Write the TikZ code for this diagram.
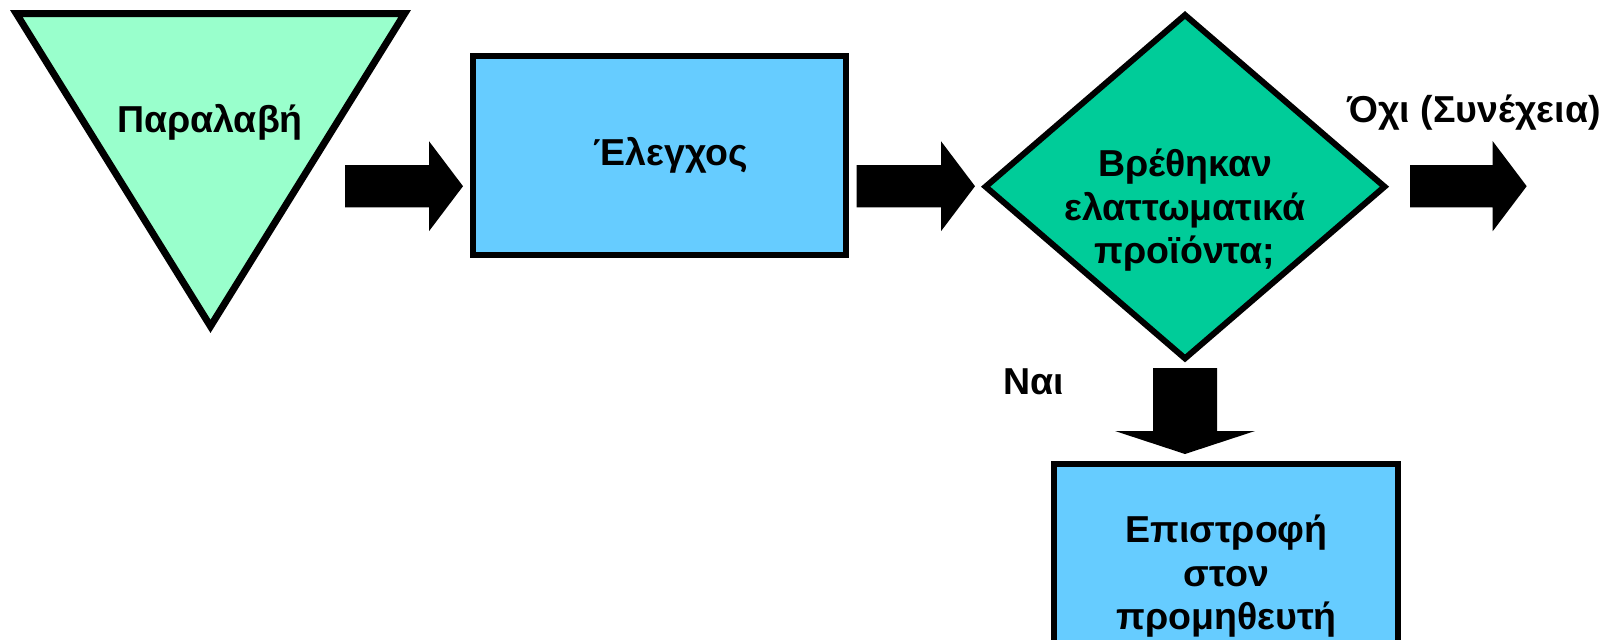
\documentclass[tikz,border=0pt]{standalone}
\usepackage{fontspec}
\setmainfont{Liberation Sans}
\usetikzlibrary{calc}

\definecolor{mint}{HTML}{99FFCC}
\definecolor{sky}{HTML}{66CCFF}
\definecolor{jade}{HTML}{00CC99}

% block arrow pointing right, from #1 (tail, shaft centre) to #2 (tip)
\newcommand\blockright[2]{%
  \fill[black] let \p1=(#1), \p2=(#2) in
    (\x1,\y1+21.2pt) -- (\x2-34pt,\y1+21.2pt) -- (\x2-34pt,\y1+45pt) --
    (\x2,\y2) --
    (\x2-34pt,\y1-45pt) -- (\x2-34pt,\y1-21.2pt) -- (\x1,\y1-21.2pt) -- cycle;}
% block arrow pointing down, from #1 (tail, shaft centre) to #2 (tip)
\newcommand\blockdown[2]{%
  \fill[black] let \p1=(#1), \p2=(#2) in
    (\x1-32pt,\y1) -- (\x1-32pt,\y2+23pt) -- (\x1-70pt,\y2+23pt) --
    (\x2,\y2) --
    (\x1+70pt,\y2+23pt) -- (\x1+32pt,\y2+23pt) -- (\x1+32pt,\y1) -- cycle;}

\tikzset{
  shapeline/.style={draw=black, line width=6pt, line join=miter},
  label/.style={font=\fontsize{37.5}{43.5}\selectfont\bfseries, inner sep=0pt, anchor=base},
}

\begin{document}
\begin{tikzpicture}[x=1pt,y=-1pt]
\useasboundingbox (0,0) rectangle (1607,640);
\clip (0,0) rectangle (1607,640);

% receiving: inverted triangle
\coordinate (triA) at (16.3,13.5);
\coordinate (triB) at (404.7,13.5);
\coordinate (triC) at (210.5,326.3);
\filldraw[shapeline, line width=7pt, fill=mint] (triA) -- (triB) -- (triC) -- cycle;
\node[label] (recv) at (210,132) {Παραλαβή};

% inspection box
\filldraw[shapeline, fill=sky] (473,56) rectangle (846.3,254.7);
\node[label] (check) at (671,165) {Έλεγχος};

% decision diamond
\coordinate (dL) at (985.6,186.7);
\coordinate (dT) at (1185,15);
\coordinate (dR) at (1384.5,186.7);
\coordinate (dB) at (1185,358.4);
\filldraw[shapeline, fill=jade] (dL) -- (dT) -- (dR) -- (dB) -- cycle;
\node[label] (ask) at (1185,176.5)
  {\begin{tabular}[t]{@{}c@{}}Βρέθηκαν\\ελαττωματικά\\προϊόντα;\end{tabular}};

% return box
\filldraw[shapeline, fill=sky] (1053.7,463.7) rectangle (1398,720);
\node[label] (ret) at (1226.5,542.5)
  {\begin{tabular}[t]{@{}c@{}}Επιστροφή\\στον\\προμηθευτή\end{tabular}};

% branch labels
\node[label] (no) at (1474,122) {Όχι (Συνέχεια)};
\node[label] (yes) at (1034,394) {Ναι};

% block arrows
\coordinate (a1s) at (345,186.2);   \coordinate (a1e) at (463,186.2);
\coordinate (a2s) at (856.7,186.2); \coordinate (a2e) at (975,186.2);
\coordinate (a3s) at (1410,186.2);  \coordinate (a3e) at (1526.7,186.2);
\coordinate (a4s) at (1185,368);    \coordinate (a4e) at (1185,454);
\blockright{a1s}{a1e}
\blockright{a2s}{a2e}
\blockright{a3s}{a3e}
\blockdown{a4s}{a4e}
\end{tikzpicture}
\end{document}
